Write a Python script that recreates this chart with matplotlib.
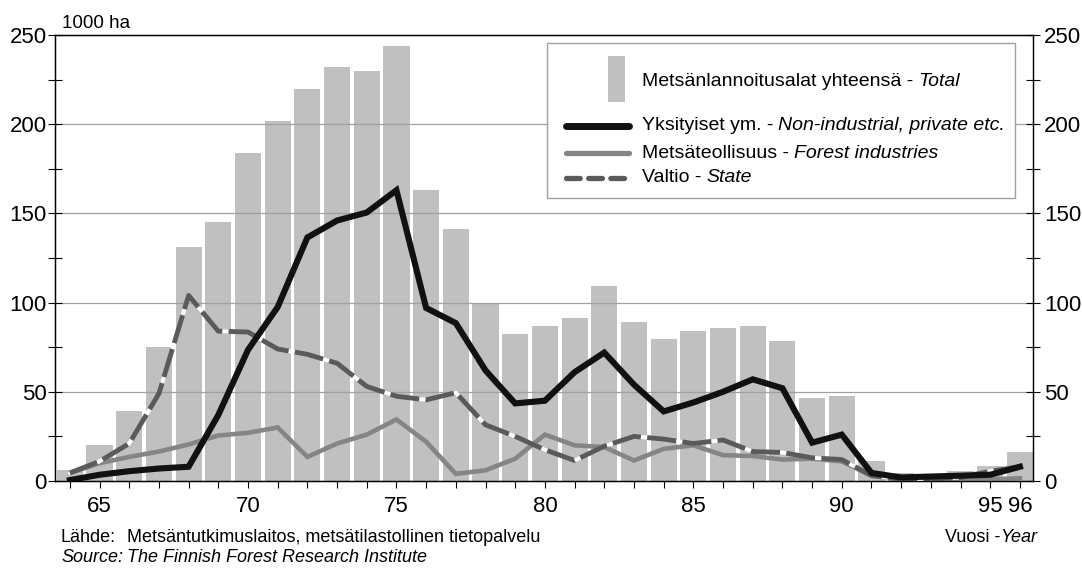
import matplotlib
matplotlib.use("Agg")
import matplotlib.pyplot as plt
import numpy as np
from matplotlib.patches import Rectangle
from matplotlib.lines import Line2D
from matplotlib.ticker import MultipleLocator

plt.rcParams['font.family'] = ['Liberation Sans', 'DejaVu Sans']

# ---- data (1000 ha) ----
years = list(range(64, 97))
total = [6, 20, 39, 75, 131, 145, 184, 202, 220, 232, 230, 244, 163, 141, 100,
         82.5, 87, 91.5, 109.5, 89, 79.5, 84, 86, 87, 78.5, 46.5, 47.5,
         11, 4.5, 3, 5.5, 8.5, 16.5]
private = [0.5, 3.5, 5.5, 7, 8, 37, 73.5, 97.5, 136.5, 146, 150.5, 163, 97, 88.5,
           62, 43.5, 45, 61, 72, 54, 39, 44, 50, 57, 52, 21.5, 26,
           4.5, 2, 2.5, 3, 3.5, 8]
industry = [4.5, 10, 13.5, 16.5, 20.5, 25.5, 27, 30, 13.5, 21, 26, 34.5, 22, 4,
            6, 12.5, 26, 20, 19, 11.5, 18, 20, 14.5, 14, 12, 12.5, 11,
            3, 1, 1, 1, 1, 1.5]
state = [4.5, 11, 21, 49, 104, 84, 83.5, 74, 71, 66, 53, 47.5, 45.5, 49.5,
         31.5, 25, 17.5, 11.5, 19.5, 25, 23.5, 21, 23, 16.5, 16, 13, 12,
         3, 1, 1, 2, 5.5, 8]

xticks = [65, 70, 75, 80, 85, 90, 95, 96]
lbl_total = ("Metsänlannoitusalat yhteensä - ", "Total")
lbl_private = ("Yksityiset ym. - ", "Non-industrial, private etc.")
lbl_industry = ("Metsäteollisuus - ", "Forest industries")
lbl_state = ("Valtio - ", "State")

c_bar = '#c0c0c0'
c_priv = '#111111'
c_ind = '#858585'
c_state = '#5a5a5a'

fig = plt.figure(figsize=(10.82, 5.68), dpi=100)
ax = fig.add_axes([55/1082, 1-481/568, 978/1082, 446/568])

ax.bar(years, total, width=0.88, color=c_bar, zorder=1)
ax.plot(years, industry, color=c_ind, lw=3.3, zorder=3, solid_joinstyle='miter')
ax.plot(years, state, color='white', lw=2.8, zorder=4)
ax.plot(years, state, color=c_state, lw=3.5, zorder=4.1,
        dashes=(6, 1.3), dash_capstyle='butt', solid_joinstyle='miter')
ax.plot(years, private, color=c_priv, lw=4.4, zorder=5, solid_joinstyle='miter')

ax.set_xlim(63.5, 96.44)
ax.set_ylim(0, 250)
ax.set_xticks(years, minor=False)
ax.set_xticklabels([str(y) if y in xticks else '' for y in years])
ax.tick_params(axis='x', direction='out', length=5, width=0.8, pad=6,
               labelsize=16)
ax.yaxis.set_major_locator(MultipleLocator(50))
ax.yaxis.set_minor_locator(MultipleLocator(25))
ax.tick_params(axis='y', which='both', direction='inout', length=10, width=0.8,
               labelsize=16, pad=1)
ax.set_axisbelow(False)
ax.yaxis.grid(True, which='major', color='#a0a0a0', lw=0.9)
for s in ax.spines.values():
    s.set_linewidth(0.9)

ax2 = ax.twinx()
ax2.set_ylim(0, 250)
ax2.yaxis.set_major_locator(MultipleLocator(50))
ax2.yaxis.set_minor_locator(MultipleLocator(25))
ax2.tick_params(axis='y', which='both', direction='inout', length=10, width=0.8,
                labelsize=16, pad=3)
for s in ax2.spines.values():
    s.set_linewidth(0.9)

ax.text(62 / 1082, 1 - 23 / 568, "1000 ha", transform=fig.transFigure,
        fontsize=13.5, va='center', ha='left')

# ---- legend drawn by hand ----
tr = ax.transAxes
ax.add_patch(Rectangle((0.5028, 0.6339), 0.4788, 0.3475, transform=tr,
                       facecolor='white', edgecolor='#a0a0a0', lw=1.0,
                       zorder=10))
ax.add_patch(Rectangle((0.5654, 0.8504), 0.0174, 0.1025, transform=tr,
                       facecolor=c_bar, edgecolor='none', zorder=11))
lx = [0.5222, 0.5869]
ax.add_line(Line2D(lx, [0.7960] * 2, transform=tr, color=c_priv, lw=5.0,
                   solid_capstyle='round', zorder=11))
ax.add_line(Line2D(lx, [0.7348] * 2, transform=tr, color=c_ind, lw=3.8,
                   solid_capstyle='round', zorder=11))
ax.add_line(Line2D(lx, [0.6800] * 2, transform=tr, color=c_state, lw=3.8,
                   dashes=(2.6, 1.6), dash_capstyle='round', zorder=11))


def leg_text(y, parts):
    t = ax.text(0.5999, y, parts[0], transform=tr, fontsize=14,
                va='center', ha='left', zorder=12)
    fig.canvas.draw()
    bb = t.get_window_extent()
    x1 = tr.inverted().transform((bb.x1, bb.y0))[0]
    ax.text(x1, y, parts[1], transform=tr, fontsize=14, style='italic',
            va='center', ha='left', zorder=12)


leg_text(0.8953, lbl_total)
leg_text(0.7960, lbl_private)
leg_text(0.7348, lbl_industry)
leg_text(0.6800, lbl_state)

# ---- footer ----
fs = 13
col2 = 127 / 1082
fig.text(61 / 1082, 1 - 538 / 568, "Lähde:", fontsize=fs, va='center')
fig.text(col2, 1 - 538 / 568,
         "Metsäntutkimuslaitos, metsätilastollinen tietopalvelu",
         fontsize=fs, va='center')
fig.text(61 / 1082, 1 - 557 / 568, "Source:", fontsize=fs, va='center',
         style='italic')
fig.text(col2, 1 - 557 / 568, "The Finnish Forest Research Institute",
         fontsize=fs, va='center', style='italic')
t = fig.text(1037 / 1082, 1 - 537 / 568, "Year", fontsize=fs, va='center',
             ha='right', style='italic')
fig.canvas.draw()
bb = t.get_window_extent()
fig.text(bb.x0 / fig.bbox.width, 1 - 537 / 568, "Vuosi -", fontsize=fs,
         va='center', ha='right')

fig.savefig("out.png", dpi=100)
